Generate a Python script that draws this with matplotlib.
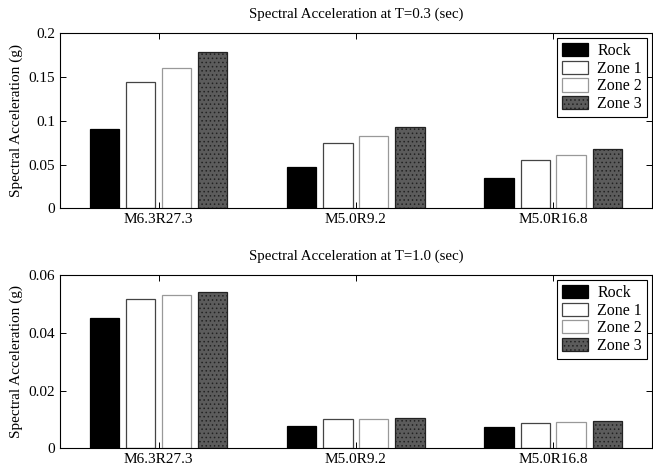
import numpy as np
import matplotlib
matplotlib.use('Agg')
from matplotlib import pyplot as plt

plt.rcParams['font.family'] = ['Liberation Serif', 'DejaVu Serif']

# Data
cases = ['M6.3R27.3', 'M5.0R9.2', 'M5.0R16.8']
series = ['Rock', 'Zone 1', 'Zone 2', 'Zone 3']

sa_03 = {
    'Rock':   [0.090, 0.047, 0.035],
    'Zone 1': [0.144, 0.074, 0.055],
    'Zone 2': [0.160, 0.083, 0.061],
    'Zone 3': [0.178, 0.093, 0.068],
}
sa_10 = {
    'Rock':   [0.0452, 0.0078, 0.0074],
    'Zone 1': [0.0519, 0.0100, 0.0089],
    'Zone 2': [0.0531, 0.0102, 0.0092],
    'Zone 3': [0.0543, 0.0106, 0.0095],
}

titles = ['Spectral Acceleration at T=0.3 (sec)', 'Spectral Acceleration at T=1.0 (sec)']
yticks_top = [0, 0.05, 0.1, 0.15, 0.2]
yticks_bot = [0, 0.02, 0.04, 0.06]

styles = {
    'Rock':   dict(facecolor='black', edgecolor='black'),
    'Zone 1': dict(facecolor='white', edgecolor='#444444'),
    'Zone 2': dict(facecolor='white', edgecolor='#999999'),
    'Zone 3': dict(facecolor='#5c5c5c', edgecolor='#222222', hatch='....'),
}

fig = plt.figure(figsize=(6.53, 4.68), dpi=100)
ax1 = fig.add_axes([0.092, 0.555, 0.906, 0.374])
ax2 = fig.add_axes([0.092, 0.042, 0.906, 0.370])

x = np.arange(1, len(cases) + 1)
offsets = [-0.274, -0.091, 0.091, 0.274]
width = 0.148

plt.rcParams['hatch.color'] = '#9a9a9a'
plt.rcParams['hatch.linewidth'] = 0.6

for ax, data, title, yt in [(ax1, sa_03, titles[0], yticks_top),
                            (ax2, sa_10, titles[1], yticks_bot)]:
    for s, off in zip(series, offsets):
        ax.bar(x + off, data[s], width, label=s, linewidth=0.9, **styles[s])
    ax.set_xlim(0.5, 3.5)
    ax.set_ylim(yt[0], yt[-1])
    ax.set_yticks(yt)
    ax.set_yticklabels([('%g' % v) for v in yt])
    ax.set_xticks(x)
    ax.set_xticklabels(cases)
    ax.tick_params(direction='in', top=True, right=True, labelsize=11, length=4, width=0.7)
    ax.set_title(title, fontsize=10.7, pad=11)
    ax.set_ylabel('Spectral Acceleration (g)', fontsize=11, labelpad=4)
    for sp in ax.spines.values():
        sp.set_linewidth(0.8)
    leg = ax.legend(loc='upper right', fontsize=11.5, fancybox=False, framealpha=1,
                    edgecolor='black', handlelength=1.6, handleheight=0.9,
                    borderpad=0.3, labelspacing=0.1, borderaxespad=0.3,
                    handletextpad=0.6)
    leg.get_frame().set_linewidth(0.8)

fig.savefig('out.png', dpi=100)
